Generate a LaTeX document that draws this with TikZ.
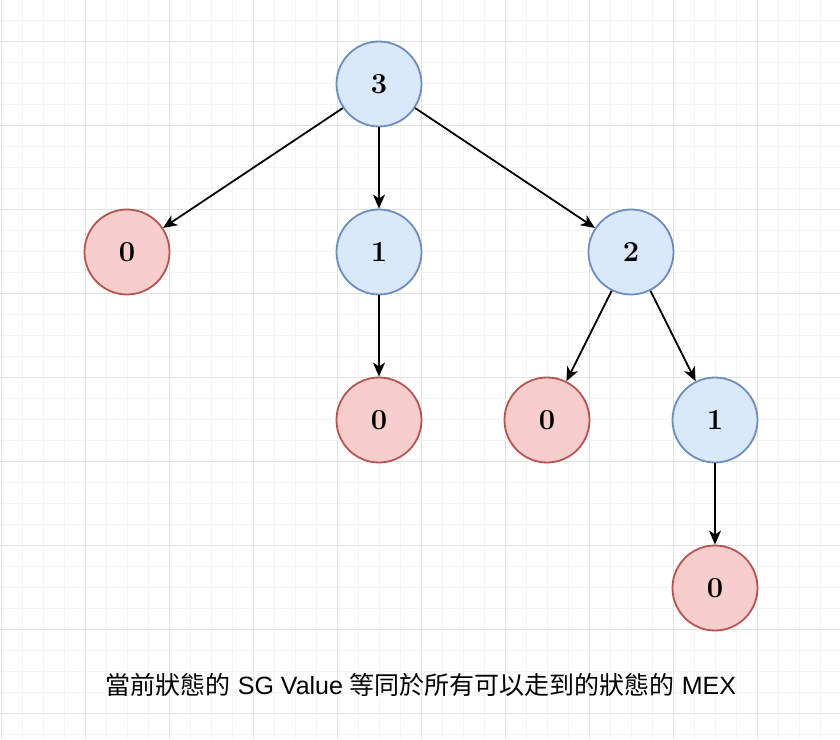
\documentclass[tikz,border=0pt]{standalone}
\usepackage{fontspec}
\newfontfamily\cjk{Noto Sans CJK TC}
\newfontfamily\lat{Liberation Sans}
\usetikzlibrary{arrows.meta}
\definecolor{bfill}{HTML}{DAE8FC}
\definecolor{bdraw}{HTML}{6C8EBF}
\definecolor{rfill}{HTML}{F8CECC}
\definecolor{rdraw}{HTML}{B85450}
\definecolor{gmin}{HTML}{F4F4F4}
\definecolor{gmaj}{HTML}{E2E2E2}
\tikzset{
  state/.style={circle, minimum size=85pt, inner sep=0pt, line width=1.8pt, font=\fontsize{29}{30}\selectfont\bfseries},
  bluenode/.style={state, fill=bfill, draw=bdraw},
  rednode/.style={state, fill=rfill, draw=rdraw},
  edge/.style={line width=1.8pt, -{Stealth[length=14pt, width=12pt, inset=4pt]}},
  caption/.style={font=\fontsize{25}{28}\selectfont, inner sep=0pt}
}
\begin{document}
\begin{tikzpicture}[x=1pt, y=1pt]
\useasboundingbox (0,0) rectangle (840,739);
\fill[white] (0,0) rectangle (840,739);
% minor grid
\foreach \k in {0,...,39} {
  \pgfmathtruncatemacro{\xx}{1+21*\k}
  \draw[gmin, line width=0.8pt] (\xx,0) -- (\xx,739);
}
\foreach \k in {0,...,34} {
  \pgfmathtruncatemacro{\yy}{719-21*\k}
  \draw[gmin, line width=0.8pt] (0,\yy) -- (840,\yy);
}
% major grid
\foreach \k in {0,...,9} {
  \pgfmathtruncatemacro{\xx}{1+84*\k}
  \draw[gmaj, line width=0.8pt] (\xx,0) -- (\xx,739);
}
\foreach \k in {0,...,8} {
  \pgfmathtruncatemacro{\yy}{698-84*\k}
  \draw[gmaj, line width=0.8pt] (0,\yy) -- (840,\yy);
}
% nodes
\node[bluenode] (n3)  at (379,655) {3};
\node[rednode]  (n0a) at (127,487) {0};
\node[bluenode] (n1a) at (379,487) {1};
\node[bluenode] (n2)  at (631,487) {2};
\node[rednode]  (n0b) at (379,319) {0};
\node[rednode]  (n0c) at (547,319) {0};
\node[bluenode] (n1b) at (715,319) {1};
\node[rednode]  (n0d) at (715,151) {0};
% edges
\draw[edge] (n3) -- (n0a);
\draw[edge] (n3) -- (n1a);
\draw[edge] (n3) -- (n2);
\draw[edge] (n1a) -- (n0b);
\draw[edge] (n2) -- (n0c);
\draw[edge] (n2) -- (n1b);
\draw[edge] (n1b) -- (n0d);
% caption
\node[caption] (cap) at (421,54) {\cjk 當前狀態的\lat{} SG Value \cjk 等同於所有可以走到的狀態的\lat{} MEX};
\end{tikzpicture}
\end{document}
